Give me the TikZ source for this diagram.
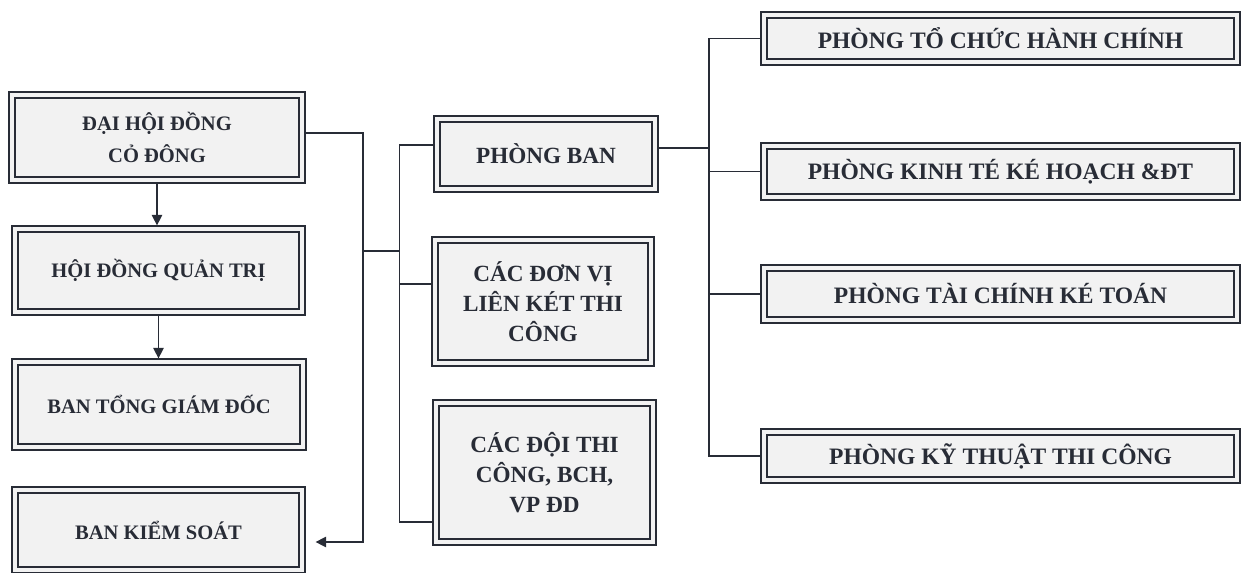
\documentclass[tikz,border=0pt]{standalone}
\usepackage{fontspec}
\setmainfont{Liberation Serif}
\usetikzlibrary{arrows.meta}
\definecolor{ink}{RGB}{40,44,54}

\begin{document}
\begin{tikzpicture}[
  unit/.style={draw=ink, line width=0.7pt, fill=black!5, inner sep=0pt,
    align=center, text=ink,
    path picture={\draw[ink, line width=1.3pt]
      ([shift={(3.3pt,3.3pt)}]path picture bounding box.south west) rectangle
      ([shift={(-3.3pt,-3.3pt)}]path picture bounding box.north east);}},
  leftfont/.style={font=\fontsize{11.7}{18}\selectfont\bfseries},
  midfont/.style={font=\fontsize{13.2}{17}\selectfont\bfseries},
  rightfont/.style={font=\fontsize{13.4}{17}\selectfont\bfseries},
  link/.style={draw=ink, line width=0.7pt},
  tip/.style={-{Triangle[width=6pt,length=6pt]}}
]
  \useasboundingbox (0,0) rectangle (24.9,-11.46);

  % left column
  \node[unit,leftfont,minimum width=5.92cm,minimum height=1.82cm] (dhd) at (3.14,-2.75) {ĐẠI HỘI ĐỒNG\\CỎ ĐÔNG};
  \node[unit,leftfont,minimum width=5.86cm,minimum height=1.78cm] (hdqt) at (3.17,-5.41) {HỘI ĐỒNG QUẢN TRỊ};
  \node[unit,leftfont,minimum width=5.88cm,minimum height=1.82cm] (btgd) at (3.18,-8.09) {BAN TỔNG GIÁM ĐỐC};
  \node[unit,leftfont,minimum width=5.86cm,minimum height=1.72cm] (bks) at (3.17,-10.6) {BAN KIỂM SOÁT};

  % middle column
  \node[unit,midfont,minimum width=4.48cm,minimum height=1.52cm] (pb) at (10.92,-3.08) {PHÒNG BAN};
  \node[unit,midfont,minimum width=4.44cm,minimum height=2.58cm] (dvlk) at (10.86,-6.03) {CÁC ĐƠN VỊ\\LIÊN KÉT THI\\CÔNG};
  \node[unit,midfont,minimum width=4.46cm,minimum height=2.9cm] (ddtc) at (10.89,-9.45) {CÁC ĐỘI THI\\CÔNG, BCH,\\VP ĐD};

  % right column
  \node[unit,rightfont,minimum width=9.58cm,minimum height=1.06cm] (p1) at (20.01,-0.77) {PHÒNG TỔ CHỨC HÀNH CHÍNH};
  \node[unit,rightfont,minimum width=9.58cm,minimum height=1.14cm] (p2) at (20.01,-3.43) {PHÒNG KINH TÉ KÉ HOẠCH \&ĐT};
  \node[unit,rightfont,minimum width=9.58cm,minimum height=1.16cm] (p3) at (20.01,-5.88) {PHÒNG TÀI CHÍNH KÉ TOÁN};
  \node[unit,rightfont,minimum width=9.58cm,minimum height=1.08cm] (p4) at (20.01,-9.12) {PHÒNG KỸ THUẬT THI CÔNG};

  \coordinate (feed) at (7.26,-5.02);
  \coordinate (midbus) at (8.0,-5.02);
  \coordinate (rbus) at (14.18,0);

  % left arrows
  \draw[link,tip] (dhd.south) -- (dhd.south |- hdqt.north);
  \draw[link,tip] (hdqt.south) -- (hdqt.south |- btgd.north);
  \draw[link,tip] ([yshift=0.09cm]dhd.east) -| (feed) |- ([xshift=0.2cm,yshift=-0.24cm]bks.east);
  \draw[link] (feed) -- (midbus);

  % middle bus
  \draw[link] ([yshift=0.18cm]pb.west) -- ++(-0.68,0) |- ([yshift=-0.99cm]ddtc.west);
  \draw[link] ([yshift=0.35cm]dvlk.west) -- ++(-0.64,0);

  % right bus
  \draw[link] ([yshift=0.12cm]pb.east) -- ++(1.02,0);
  \draw[link] (p1.west) -- (rbus |- p1.west) -- (rbus |- p4.west) -- (p4.west);
  \foreach \n in {p2,p3}
    \draw[link] (\n.west) -- (rbus |- \n.west);
\end{tikzpicture}
\end{document}
